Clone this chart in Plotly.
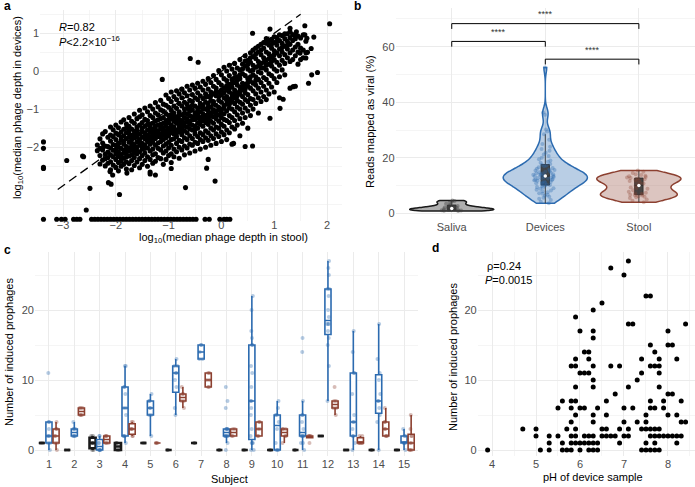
import numpy as np
import plotly.graph_objects as go

FONT = "Liberation Sans, Arial, Helvetica, sans-serif"
W, H = 695, 487

# ---------------- panel a: log10 median phage depth ----------------
a_stool_cols = [-2.35, -2.30, -2.25, -2.20, -2.15, -2.10, -2.05, -2.00, -1.95, -1.90,
                -1.85, -1.80, -1.75, -1.70, -1.65, -1.60, -1.55, -1.50, -1.45, -1.40,
                -1.35, -1.30, -1.25, -1.20, -1.15, -1.10, -1.05, -1.00, -0.95, -0.90,
                -0.85, -0.80, -0.75, -0.70, -0.65, -0.60, -0.55, -0.50, -0.45, -0.40,
                -0.35, -0.30, -0.25, -0.20, -0.15, -0.10, -0.05, 0.00, 0.05, 0.10,
                0.15, 0.20, 0.25, 0.30, 0.35, 0.40, 0.45, 0.50, 0.55, 0.60,
                0.65, 0.70, 0.75, 0.80, 0.85, 0.90, 0.95, 1.00, 1.05, 1.10,
                1.15, 1.20, 1.25, 1.30, 1.35, 1.40, 1.45, 1.50, 1.55, 1.60]
a_device_cols = [
    [-2.08, -1.93],
    [-2.21, -1.77, -2.43, -2.02],
    [-1.88, -2.06, -2.33, -1.64],
    [-1.58, -2.17, -2.29, -2.48, -1.96],
    [-1.73, -1.97, -2.41, -2.12, -2.26],
    [-1.46, -1.83, -2.01, -2.19, -2.37, -2.58, -1.67],
    [-1.53, -1.71, -2.07, -2.24, -2.46, -1.92],
    [-1.41, -1.79, -1.94, -2.16, -2.31, -2.52, -1.62, -2.05],
    [-1.48, -1.66, -1.89, -2.11, -2.23, -2.39, -2.61, -1.99],
    [-1.33, -1.59, -1.81, -2.02, -2.18, -2.36, -2.49, -1.72, -2.27],
    [-1.27, -1.52, -1.69, -1.91, -2.07, -2.28, -2.44, -1.83, -2.15],
    [-1.38, -1.61, -1.76, -1.97, -2.13, -2.24, -2.56, -1.49, -2.04, -2.37],
    [-1.21, -1.44, -1.63, -1.86, -2.01, -2.09, -2.42, -1.73, -2.22, -1.55],
    [-1.31, -1.51, -1.68, -1.79, -1.96, -2.19, -2.34, -2.58, -1.88, -2.07],
    [-1.12, -1.36, -1.57, -1.74, -1.92, -2.04, -2.26, -2.47, -1.66, -2.13],
    [-1.24, -1.46, -1.61, -1.84, -1.99, -2.16, -2.38, -1.71, -2.09, -1.53],
    [-1.02, -1.19, -1.41, -1.64, -1.79, -1.94, -2.11, -2.29, -2.53, -1.87],
    [-1.14, -1.34, -1.49, -1.72, -1.89, -2.04, -2.21, -2.44, -1.58, -1.97],
    [-0.96, -1.26, -1.44, -1.61, -1.77, -1.93, -2.14, -2.34, -1.69, -2.02],
    [-1.06, -1.29, -1.54, -1.68, -1.84, -2.01, -2.24, -2.49, -1.39, -1.76],
    [-0.91, -1.16, -1.38, -1.59, -1.81, -1.91, -2.09, -2.31, -2.64, -1.71, -1.47],
    [-0.99, -1.21, -1.36, -1.51, -1.66, -1.86, -2.04, -2.19, -2.41, -1.74, -1.58],
    [-0.82, -1.09, -1.31, -1.44, -1.62, -1.76, -1.94, -2.16, -2.36, -1.53, -1.69],
    [-0.93, -1.14, -1.41, -1.56, -1.71, -1.88, -2.02, -2.26, -1.27, -1.63],
    [-0.76, -1.01, -1.24, -1.39, -1.51, -1.64, -1.84, -2.06, -2.29, -1.73, -1.46],
    [-0.86, -1.04, -1.21, -1.36, -1.59, -1.79, -1.96, -2.14, -2.44, -1.48, -1.67],
    [-0.62, -0.89, -1.11, -1.29, -1.44, -1.56, -1.74, -1.91, -2.09, -2.31, -1.63, -1.37],
    [-0.71, -0.94, -1.16, -1.34, -1.49, -1.69, -1.86, -2.01, -2.21, -1.58, -1.27],
    [-0.54, -0.79, -1.02, -1.24, -1.41, -1.61, -1.79, -1.94, -2.16, -2.39, -1.52, -1.13],
    [-0.66, -0.91, -1.09, -1.31, -1.46, -1.64, -1.77, -2.04, -2.24, -1.19, -1.54],
    [-0.51, -0.74, -0.97, -1.19, -1.36, -1.54, -1.71, -1.89, -2.11, -1.28, -1.62],
    [-0.59, -0.84, -1.06, -1.26, -1.39, -1.59, -1.81, -1.99, -2.28, -1.47, -1.14],
    [-0.46, -0.69, -0.91, -1.14, -1.29, -1.49, -1.66, -1.84, -2.06, -1.37, -1.57],
    [-0.56, -0.81, -0.99, -1.21, -1.34, -1.56, -1.74, -1.96, -2.19, -1.09, -1.44],
    [-0.39, -0.64, -0.86, -1.11, -1.24, -1.46, -1.61, -1.79, -2.01, -1.33, -0.97],
    [-0.49, -0.76, -0.94, -1.16, -1.31, -1.51, -1.69, -1.91, -2.14, -1.04, -1.39],
    [-0.36, -0.61, -0.79, -1.01, -1.19, -1.41, -1.54, -1.76, -1.94, -1.27, -0.89],
    [-0.44, -0.69, -0.91, -1.09, -1.26, -1.44, -1.64, -1.86, -2.09, -1.16, -1.53],
    [-0.31, -0.56, -0.74, -0.96, -1.14, -1.36, -1.49, -1.71, -1.89, -1.04, -1.23],
    [-0.41, -0.64, -0.84, -1.06, -1.21, -1.39, -1.61, -1.79, -2.04, -0.93, -1.29],
    [-0.26, -0.49, -0.71, -0.89, -1.11, -1.29, -1.44, -1.66, -1.84, -0.99, -1.19],
    [-0.34, -0.59, -0.81, -0.99, -1.16, -1.34, -1.56, -1.74, -1.99, -0.68, -1.24],
    [-0.19, -0.46, -0.66, -0.84, -1.04, -1.26, -1.39, -1.61, -1.81, -0.93, -1.13],
    [-0.29, -0.54, -0.76, -0.94, -1.09, -1.31, -1.49, -1.69, -1.94, -0.64, -1.18],
    [-0.11, -0.39, -0.59, -0.79, -1.01, -1.19, -1.36, -1.54, -1.76, -0.86, -1.07],
    [-0.21, -0.44, -0.64, -0.89, -1.04, -1.24, -1.46, -1.64, -1.89, -0.53, -1.13],
    [0.02, -0.29, -0.54, -0.76, -0.94, -1.14, -1.31, -1.49, -1.71, -0.66, -1.01],
    [-0.09, -0.36, -0.61, -0.81, -0.99, -1.21, -1.39, -1.59, -1.84, -0.49, -1.09],
    [0.11, -0.19, -0.44, -0.69, -0.89, -1.11, -1.26, -1.44, -1.66, -0.56, -0.97],
    [0.01, -0.24, -0.49, -0.66, -0.86, -1.04, -1.29, -1.54, -1.79, -0.37, -0.76],
    [0.16, -0.11, -0.34, -0.54, -0.74, -0.96, -1.16, -1.34, -1.61, -0.44, -0.86],
    [0.06, -0.21, -0.41, -0.59, -0.79, -0.99, -1.21, -1.46, -1.91, -0.31, -0.68],
    [0.21, -0.04, -0.29, -0.49, -0.69, -0.84, -1.06, -1.29, -1.51, -0.16, -0.58],
    [0.09, -0.14, -0.36, -0.56, -0.76, -0.94, -1.14, -1.41, -0.24, -0.64],
    [0.31, 0.04, -0.19, -0.41, -0.59, -0.81, -0.99, -1.24, -1.69, -0.09, -0.51],
    [0.19, -0.06, -0.31, -0.49, -0.66, -0.86, -1.09, -1.36, 0.06, -0.39],
    [0.41, 0.14, -0.11, -0.34, -0.56, -0.74, -0.96, -1.21, 0.27, -0.46],
    [0.29, 0.06, -0.19, -0.39, -0.61, -0.79, -1.04, -1.49, 0.18, -0.29],
    [0.49, 0.24, 0.01, -0.26, -0.44, -0.71, -0.89, -1.16, 0.36, -0.14],
    [0.39, 0.16, -0.09, -0.31, -0.51, -0.74, -0.99, 0.56, 0.04],
    [0.61, 0.34, 0.11, -0.14, -0.36, -0.59, -0.84, 0.46, -0.24],
    [0.51, 0.26, -0.01, -0.21, -0.44, -0.69, -1.09, 0.66, 0.14],
    [0.71, 0.44, 0.21, -0.04, -0.29, -0.54, -0.79, 0.56, 0.09],
    [0.61, 0.36, 0.09, -0.16, -0.39, -0.66, 0.76, 0.24],
    [0.74, 0.51, 0.29, 0.04, -0.21, -0.49, -0.74, 0.86, 0.16],
    [0.69, 0.46, 0.19, -0.06, -0.31, -0.59, 0.81, 0.34],
    [0.84, 0.61, 0.39, 0.14, -0.11, -0.41, 0.71, 0.26],
    [0.76, 0.54, 0.31, 0.06, -0.19, -0.54, 0.91, 0.44],
    [0.89, 0.69, 0.49, 0.24, 0.01, -0.29, 0.79],
    [0.81, 0.59, 0.41, 0.16, -0.14, -0.69, 0.96],
    [0.94, 0.74, 0.51, 0.29, 0.04, 0.63],
    [0.86, 0.66, 0.44, 0.21, -0.09, 0.99],
    [0.99, 0.79, 0.59, 0.36, 0.69],
    [0.89, 0.71, 0.49, 0.26, -0.44, 1.04],
    [0.97, 0.81, 0.56, 0.31],
    [0.86, 0.64, 0.41, -0.39, 0.94],
    [0.93, 0.71, 0.51, 0.19],
    [0.88, 0.61, 0.31],
    [0.96, 0.56, 0.36],
    [0.79, 0.49],
]
a_extra_stool = [-2.93, -2.63, -2.61, -2.49, -2.56, -2.23, -2.11, -2.06, -2.14, -2.09,
                 -1.93, -1.79, -1.35, -1.25, -0.95, -0.12, -0.68, -0.28, -0.25, 0.23,
                 0.45, 0.59, -1.12, -0.75, -0.59, -0.44, 0.59, 0.92, 1.30, 1.42,
                 1.58, 1.62, 1.49, 1.65, 1.71, 1.82, 1.36, 0.92, 1.11, 1.17,
                 1.60, 1.63, 1.58, 2.05, 1.75, 1.70]
a_extra_device = [-2.34, -2.22, -2.24, -3.07, -3.64, -1.97, -2.63, -2.72, -2.92, -2.96,
                  -3.23, -2.67, -2.69, -2.72, -2.55, -2.88, -3.05, -2.54, -2.31, -1.89,
                  -1.97, -1.96, -0.21, -0.47, 0.34, 0.24, 1.00, 1.11, 1.13, 1.04,
                  0.96, 0.87, 0.48, -0.31, -0.09, -0.03, -0.40, -1.23, -0.97, -0.73,
                  0.35, 0.50, 1.20, 1.25, 0.90, 0.60]
# phages not detected in devices (plotted at the floor value)
a_zero_device_stool = [-3.37, -3.12, -3.03, -2.96, -2.80, -2.74, -2.68,
                       -2.46, -2.40, -2.34, -2.28, -2.22, -2.16, -2.10, -2.04, -1.98, -1.92,
                       -1.86, -1.80, -1.74, -1.68, -1.62, -1.56, -1.50, -1.44, -1.38, -1.32,
                       -1.26, -1.20, -1.14, -1.08, -1.02, -0.96, -0.90, -0.84, -0.78, -0.72,
                       -0.66, -0.60, -0.54, -0.48, -0.31, -0.23, -0.03, 0.05, 0.10, 0.16]
a_zero_device_level = -3.88
# phages not detected in stool (plotted at the floor value)
a_zero_stool_device = [-1.85, -2.02, -2.52, -2.55]
a_zero_stool_level = -3.37
a_identity = [-3.1, 1.5]

# ---------------- panel b: reads mapped as viral (%) ----------------
b_groups = ["Saliva", "Devices", "Stool"]
b_saliva = [0.8, 0.9, 1.0, 1.1, 1.2, 1.2, 1.3, 1.4, 1.5, 1.5, 1.6, 1.8, 2.0, 2.1,
            2.3, 2.6, 3.0, 3.4, 3.9, 4.2, 4.4, 4.6]
b_devices = [3.6, 4.2, 4.8, 5.2, 5.6, 6.0, 6.3, 6.7, 7.0, 7.2, 7.6, 7.9, 8.2, 8.5, 8.8,
             9.0, 9.3, 9.5, 9.8, 10.0, 10.2, 10.4, 10.6, 10.8, 11.0, 11.1, 11.3, 11.5,
             11.7, 11.9, 12.0, 12.1, 12.3, 12.4, 12.6, 12.7, 12.9, 13.0, 13.1, 13.3,
             13.4, 13.6, 13.7, 13.9, 14.0, 14.1, 14.3, 14.4, 14.6, 14.8, 15.0, 15.2,
             15.4, 15.6, 15.8, 16.0, 16.3, 16.6, 16.9, 17.2, 17.5, 17.8, 18.2, 18.6,
             19.0, 19.5, 20.0, 20.6, 21.2, 21.8, 22.5, 23.2, 24.0, 25.0, 26.5, 28.5,
             29.5, 30.2, 35.5, 36.3, 52.5]
b_stool = [4.0, 4.5, 5.0, 5.5, 5.8, 6.0, 6.1, 6.4, 6.5, 6.7, 7.0, 7.2, 7.4, 7.8, 8.3,
           8.8, 9.0, 9.3, 9.8, 10.3, 10.7, 11.0, 11.3, 11.6, 11.9, 12.1, 12.3, 12.5,
           12.7, 12.9, 13.1, 13.3, 13.5, 13.8, 14.1, 14.5, 15.0, 15.4]
b_comparisons = [(0, 2), (0, 1), (1, 2)]
b_bracket_levels = [68.3, 61.9, 55.5]
b_labels = ["****", "****", "****"]

# ---------------- panel c: induced prophages per subject ----------------
c_subjects = [1, 2, 3, 4, 5, 6, 7, 8, 9, 10, 11, 12, 13, 14, 15]
c_saliva = [[1, 1], [0, 0], [0, 0, 1, 1, 1, 2, 2], [0, 0, 1, 1], [1, 1], [0, 0], [1, 1],
            [0, 0], [0, 0], [0, 0], [0, 0], [2, 2], [0, 0], [0, 0], [0, 0]]
c_devices = [[0, 1, 1, 2, 2, 2, 3, 4, 4, 11],
             [2, 2, 2, 2, 3, 3, 3, 4],
             [0, 0, 0, 0, 1, 1, 2, 2],
             [1, 2, 2, 2, 5, 6, 6, 8, 9, 9, 12, 12],
             [2, 5, 5, 6, 6, 7, 7, 8],
             [5, 6, 9, 10, 11, 11, 12, 12, 13],
             [13, 13, 14, 15, 15],
             [0, 1, 2, 2, 2, 2, 2, 3, 3, 3, 3, 6, 7, 9],
             [0, 0, 1, 1, 1, 2, 3, 5, 6, 7, 7, 9, 11, 12, 15, 15, 16, 17, 20, 22],
             [0, 0, 0, 1, 3, 4, 5, 5, 6, 7],
             [0, 1, 1, 2, 2, 2, 2, 3, 4, 5, 5, 7, 14, 16],
             [7, 12, 15, 16, 17, 18, 18, 18, 19, 20, 22, 23, 23, 25, 26, 27],
             [0, 1, 2, 2, 3, 4, 4, 5, 8, 11, 11, 14, 17],
             [0, 4, 5, 6, 7, 7, 8, 10, 11, 13, 18],
             [0, 1, 1, 1, 2, 2, 3]]
c_stool = [[0, 1, 1, 2, 2, 3, 3, 4],
           [5, 5, 5, 6, 6, 6],
           [1, 1, 1, 2, 2, 2],
           [2, 2, 3, 3, 3, 4, 4],
           [1, 1, 1],
           [6, 7, 7, 8, 8, 9],
           [9, 9, 10, 10, 11, 11],
           [2, 2, 3, 3],
           [2, 2, 3, 3, 4, 4],
           [1, 2, 2, 3, 3, 3],
           [1, 2, 2, 2, 2],
           [5, 6, 6, 7, 7, 9],
           [1, 1, 1, 1, 1, 2, 2],
           [2, 2, 2, 3, 3, 4, 4, 6],
           [0, 0, 0, 1, 1, 2, 2, 3, 5]]

# ---------------- panel d: pH vs induced prophages ----------------
d_ph = [3.9, 4.7, 5.0, 5.0, 5.1, 5.3, 5.3, 5.3, 5.5, 5.5, 5.6, 5.6, 5.6, 5.7, 5.7,
        5.8, 5.8, 5.8, 5.8, 5.8, 5.8, 5.8, 5.9, 5.9, 5.9, 5.9, 5.9, 5.9, 5.9, 5.9, 5.9,
        6.0, 6.0, 6.0, 6.0, 6.0, 6.1, 6.1, 6.1, 6.1, 6.1, 6.2, 6.2, 6.2, 6.2, 6.2, 6.2,
        6.3, 6.3, 6.3, 6.3, 6.3, 6.3, 6.3, 6.3, 6.3, 6.3, 6.3, 6.4, 6.4, 6.4,
        6.5, 6.5, 6.5, 6.6, 6.6, 6.6, 6.6, 6.7, 6.7, 6.7, 6.8, 6.8, 6.9, 6.9, 6.9,
        7.0, 7.0, 7.0, 7.0, 7.1, 7.1, 7.1, 7.1, 7.1, 7.2, 7.2, 7.3, 7.3,
        7.4, 7.4, 7.4, 7.4, 7.5, 7.5, 7.5, 7.5, 7.5, 7.5,
        7.6, 7.6, 7.6, 7.6, 7.6, 7.6, 7.6, 7.6, 7.7, 7.7, 7.7, 7.7, 7.7, 7.7, 7.7,
        7.8, 7.8, 7.8, 7.8, 7.8, 7.8, 7.8, 7.9, 7.9, 7.9, 8.0, 8.0, 8.0, 8.0, 8.0,
        8.1, 8.1, 8.1, 8.2, 8.2, 8.2, 8.2, 8.3, 8.3, 8.3, 8.4, 8.4]
d_prophages = [0, 3, 3, 2, 0, 2, 1, 0, 6, 2, 7, 1, 0, 3, 0,
               12, 7, 6, 4, 2, 1, 0, 19, 13, 12, 9, 7, 5, 3, 2, 1,
               17, 11, 6, 1, 0, 14, 11, 6, 2, 1, 14, 13, 11, 2, 1, 0,
               20, 17, 16, 12, 10, 9, 5, 4, 2, 1, 0, 6, 1, 0,
               21, 3, 2, 7, 5, 3, 2, 26, 12, 2, 8, 2, 12, 3, 1,
               25, 6, 4, 2, 27, 18, 9, 3, 2, 18, 6, 10, 4,
               13, 11, 3, 0, 22, 5, 4, 3, 1, 0,
               22, 15, 12, 7, 6, 3, 2, 0, 14, 12, 6, 3, 2, 1, 0,
               13, 12, 11, 9, 3, 2, 0, 7, 6, 2, 17, 15, 8, 5, 2,
               15, 8, 2, 13, 5, 2, 1, 7, 4, 2, 18, 4]

# ---------------- styling ----------------
GRID = "#EBEBEB"
TICKC = "#4D4D4D"
COL_SAL = "#1A1A1A"
COL_DEV = "#2C6BB0"
COL_STO = "#8C4030"

fig = go.Figure()

# panel a
a_x, a_y = [], []
for x, ys in zip(a_stool_cols, a_device_cols):
    a_x += [x] * len(ys)
    a_y += ys
a_x += a_extra_stool
a_y += a_extra_device
a_x += a_zero_device_stool
a_y += [a_zero_device_level] * len(a_zero_device_stool)
a_x += [a_zero_stool_level] * len(a_zero_stool_device)
a_y += a_zero_stool_device

fig.add_trace(go.Scatter(x=a_x, y=a_y, mode="markers", xaxis="x", yaxis="y",
                         marker=dict(size=5.1, color="black"), cliponaxis=False,
                         showlegend=False))
fig.add_trace(go.Scatter(x=a_identity, y=a_identity, mode="lines", xaxis="x", yaxis="y",
                         line=dict(color="black", width=1.3, dash="9px,5px"),
                         showlegend=False))

# panel b
def nrd0(v):
    v = np.asarray(v, float)
    sd = v.std(ddof=1)
    iqr = np.subtract(*np.percentile(v, [75, 25]))
    lo = min(sd, iqr / 1.34)
    return 0.9 * lo * len(v) ** -0.2

b_vals = [b_saliva, b_devices, b_stool]
b_line = [COL_SAL, COL_DEV, COL_STO]
b_fill = ["rgba(110,110,110,0.55)", "rgba(44,107,176,0.33)", "rgba(140,64,48,0.30)"]
b_pts = ["rgba(60,60,60,0.40)", "rgba(44,107,176,0.35)", "rgba(140,64,48,0.32)"]
for name, vals, lc, fc, pc in zip(b_groups, b_vals, b_line, b_fill, b_pts):
    fig.add_trace(go.Violin(x=[name] * len(vals), y=vals, xaxis="x2", yaxis="y2",
                            name=name, showlegend=False, line=dict(color=lc, width=1.5),
                            fillcolor=fc, spanmode="hard", scalemode="width", width=0.9,
                            bandwidth=nrd0(vals), points="all", pointpos=0, jitter=0.3,
                            marker=dict(size=4, color=pc, line=dict(width=0)),
                            box=dict(visible=True, width=0.1, fillcolor="rgba(45,45,45,0.85)",
                                     line=dict(color="rgba(45,45,45,0.85)", width=1)),
                            meanline=dict(visible=False)))
fig.add_trace(go.Scatter(x=b_groups, y=[float(np.median(v)) for v in b_vals], mode="markers",
                         xaxis="x2", yaxis="y2", showlegend=False,
                         marker=dict(size=3.5, color="white")))

# panel c
for vals, col, pcol, lw in [(c_saliva, COL_SAL, "rgba(30,30,30,0.35)", 2.6),
                            (c_devices, COL_DEV, "rgba(44,107,176,0.35)", 1.6),
                            (c_stool, COL_STO, "rgba(140,64,48,0.35)", 1.6)]:
    xs, ys = [], []
    for s, v in zip(c_subjects, vals):
        xs += [s] * len(v)
        ys += v
    fig.add_trace(go.Box(x=xs, y=ys, xaxis="x3", yaxis="y3", showlegend=False,
                         line=dict(color=col, width=lw), fillcolor="white",
                         boxpoints="all", pointpos=0, jitter=0.6, whiskerwidth=0,
                         marker=dict(size=4, color=pcol, line=dict(width=0))))

# panel d
fig.add_trace(go.Scatter(x=d_ph, y=d_prophages, mode="markers", xaxis="x4", yaxis="y4",
                         marker=dict(size=5, color="black"), cliponaxis=False,
                         showlegend=False))

# ---------------- layout ----------------
def axis(domain, rng, tickvals, minor_vals=None, anchor=None, **kw):
    d = dict(domain=domain, range=rng, tickvals=tickvals, showgrid=True, gridcolor=GRID,
             gridwidth=1, zeroline=False, showline=False, ticks="",
             tickfont=dict(size=11, color=TICKC, family=FONT), anchor=anchor)
    if minor_vals is not None:
        d["minor"] = dict(tickvals=minor_vals, showgrid=True, gridcolor="#F1F1F1",
                          gridwidth=0.7, ticks="")
    d.update(kw)
    return d

def py(p):
    return 1 - p / H

cd_y = [py(456), py(252)]
fig.update_layout(
    width=W, height=H, margin=dict(l=0, r=0, t=0, b=0, autoexpand=False),
    paper_bgcolor="white", plot_bgcolor="white",
    font=dict(family=FONT, size=11, color="black"),
    boxmode="group", boxgap=0.16, boxgroupgap=0.14, violinmode="overlay",
    xaxis=axis([40 / W, 342 / W], [-3.436, 2.284], [-3, -2, -1, 0, 1, 2],
               [-3.5, -2.5, -1.5, -0.5, 0.5, 1.5], anchor="y", ticklabelstandoff=-4),
    yaxis=axis([py(221), py(10)], [-3.927, 1.612], [-2, -1, 0, 1],
               [-3.5, -3, -2.5, -1.5, -0.5, 0.5, 1.5], anchor="x"),
    xaxis2=axis([395.6 / W, 1.0], [-0.6, 2.6], b_groups, anchor="y2", type="category",
                categoryorder="array", categoryarray=b_groups),
    yaxis2=axis([py(219), py(8)], [-2.05, 73.93], [0, 20, 40, 60], [10, 30, 50, 70],
                anchor="x2"),
    xaxis3=axis([35 / W, 418 / W], [0.45, 15.55], c_subjects, anchor="y3"),
    yaxis3=axis(cd_y, [-0.857, 28.29], [0, 10, 20], [5, 15, 25], anchor="x3"),
    xaxis4=axis([477.7 / W, 1.0], [3.675, 8.614], [4, 5, 6, 7, 8],
                [4.5, 5.5, 6.5, 7.5, 8.5], anchor="y4"),
    yaxis4=axis(cd_y, [-0.857, 28.29], [0, 10, 20], [5, 15, 25], anchor="x4"),
)

def ann(text, xp, yp, size=11, xanchor="center", angle=0, color="black"):
    return dict(text=text, x=xp / W, y=py(yp), xref="paper", yref="paper",
                showarrow=False, xanchor=xanchor, yanchor="middle", textangle=angle,
                font=dict(size=size, color=color, family=FONT))

anns = [
    ann("<b>a</b>", 2, 6, 12, "left"),
    ann("<b>b</b>", 352, 6, 12, "left"),
    ann("<b>c</b>", 2, 250, 12, "left"),
    ann("<b>d</b>", 430, 248, 12, "left"),
    ann("log<sub>10</sub>(median phage depth in stool)", 224, 238),
    ann("log<sub>10</sub>(median phage depth in devices)", 18, 108, angle=-90),
    ann("Reads mapped as viral (%)", 370, 122, angle=-90),
    ann("Number of induced prophages", 9, 352, angle=-90),
    ann("Subject", 229, 479),
    ann("Number of induced prophages", 453, 357, angle=-90),
    ann("pH of device sample", 593, 477),
    ann("<i>R</i>=0.82", 57, 27, 11, "left"),
    ann("<i>P</i><2.2×10<sup>−16</sup>", 57, 41, 11, "left"),
    ann("ρ=0.24", 485, 266, 11, "left"),
    ann("<i>P</i>=0.0015", 483, 280, 11, "left"),
]
shapes = []
for (i, j), lvl, lab in zip(b_comparisons, b_bracket_levels, b_labels):
    drop = 1.9
    for x0, y0, x1, y1 in [(i, lvl, j, lvl), (i, lvl, i, lvl - drop), (j, lvl, j, lvl - drop)]:
        shapes.append(dict(type="line", xref="x2", yref="y2", x0=x0, y0=y0, x1=x1, y1=y1,
                           line=dict(color="black", width=1)))
    anns.append(dict(text=lab, x=(i + j) / 2, y=lvl + 0.8, xref="x2", yref="y2",
                     showarrow=False, yanchor="bottom",
                     font=dict(size=9, color="#333333", family=FONT)))
fig.update_layout(annotations=anns, shapes=shapes)

fig.write_html("out.html", config={"displayModeBar": False, "staticPlot": True},
               post_script="document.body.style.margin='0px';document.body.style.overflow='hidden';")
